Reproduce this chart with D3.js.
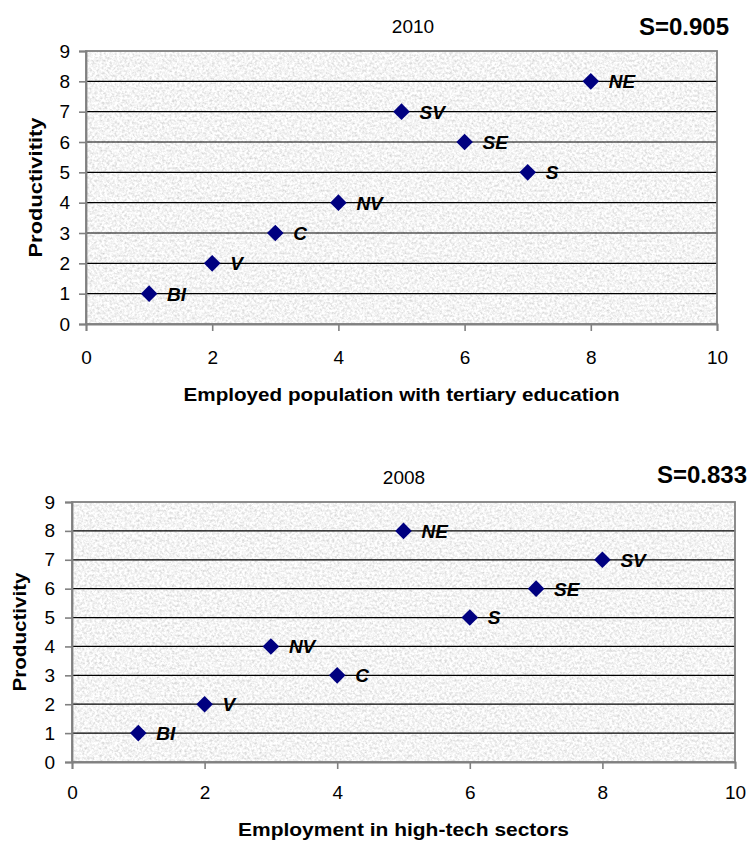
<!DOCTYPE html>
<html>
<head>
<meta charset="utf-8">
<script src="https://cdn.jsdelivr.net/npm/d3@7"></script>
<style>
  html, body { margin: 0; padding: 0; background: #fff; }
  svg { display: block; font-family: Arial, "Liberation Sans", sans-serif; }
</style>
</head>
<body>
<svg id="chart" width="753" height="841"></svg>
<script>
// Region codes and ranks
const regions2010 = ["BI", "V", "C", "NV", "SV", "SE", "S", "NE"];
const tertiaryEducation2010 = [1, 2, 3, 4, 5, 6, 7, 8];
const productivity2010 = [1, 2, 3, 4, 7, 6, 5, 8];

const regions2008 = ["BI", "V", "NV", "C", "NE", "S", "SE", "SV"];
const highTech2008 = [1, 2, 3, 4, 5, 6, 7, 8];
const productivity2008 = [1, 2, 4, 3, 8, 5, 6, 7];

const xTicks = [0, 2, 4, 6, 8, 10];
const yTicks = [0, 1, 2, 3, 4, 5, 6, 7, 8, 9];

const svg = d3.select("#chart");

// Granite-like texture for the plot area
const defs = svg.append("defs");
const filt = defs.append("filter").attr("id", "granite")
  .attr("x", 0).attr("y", 0).attr("width", 1).attr("height", 1);
filt.append("feTurbulence").attr("type", "fractalNoise")
  .attr("baseFrequency", 0.4).attr("numOctaves", 3).attr("seed", 7).attr("result", "n");
filt.append("feColorMatrix").attr("in", "n").attr("type", "matrix")
  .attr("values", "0.65 0 0 0 0.58  0.65 0 0 0 0.58  0.65 0 0 0 0.58  0 0 0 0 1");

function drawPanel(cfg) {
  const { left, right, top, bottom } = cfg;
  const x = d3.scaleLinear().domain([0, 10]).range([left, right]);
  const y = d3.scaleLinear().domain([0, 9]).range([bottom, top]);
  const g = svg.append("g");

  // textured plot background
  g.append("rect")
    .attr("x", left).attr("y", top)
    .attr("width", right - left).attr("height", bottom - top)
    .attr("fill", "#e6e6e6")
    .attr("filter", "url(#granite)");

  // horizontal gridlines
  g.append("g").selectAll("line")
    .data(yTicks.filter(v => v > 0 && v < 9))
    .join("line")
    .attr("x1", left).attr("x2", right)
    .attr("y1", d => y(d)).attr("y2", d => y(d))
    .attr("stroke", "#000").attr("stroke-width", 1.2);

  // plot border
  g.append("rect")
    .attr("x", left).attr("y", top)
    .attr("width", right - left).attr("height", bottom - top)
    .attr("fill", "none").attr("stroke", "#808080").attr("stroke-width", 1.8);

  // y axis
  const yAxis = d3.axisLeft(y).tickValues(yTicks).tickSize(7).tickPadding(cfg.yPad).tickFormat(d3.format("d"));
  const ya = g.append("g").attr("transform", `translate(${left},0)`).call(yAxis);
  ya.select(".domain").attr("stroke", "#808080").attr("stroke-width", 1.8);
  ya.selectAll(".tick line").attr("stroke", "#808080").attr("stroke-width", 1.6);
  ya.selectAll(".tick text").attr("font-size", 19).attr("fill", "#000")
    .attr("font-family", "Arial, 'Liberation Sans', sans-serif");

  // x axis
  const xAxis = d3.axisBottom(x).tickValues(xTicks).tickSize(7).tickPadding(cfg.xPad).tickFormat(d3.format("d"));
  const xa = g.append("g").attr("transform", `translate(0,${bottom})`).call(xAxis);
  xa.select(".domain").attr("stroke", "#808080").attr("stroke-width", 1.8);
  xa.selectAll(".tick line").attr("stroke", "#808080").attr("stroke-width", 1.6);
  xa.selectAll(".tick text").attr("font-size", 19).attr("fill", "#000")
    .attr("font-family", "Arial, 'Liberation Sans', sans-serif");

  // points
  const pts = cfg.names.map((n, i) => ({ n, xv: cfg.xs[i], yv: cfg.ys[i] }));
  const diamond = d3.symbol().type(d3.symbolSquare).size(138);
  g.append("g").selectAll("path")
    .data(pts)
    .join("path")
    .attr("d", diamond)
    .attr("transform", d => `translate(${x(d.xv)},${y(d.yv)}) rotate(45)`)
    .attr("fill", "#000080");

  g.append("g").selectAll("text")
    .data(pts)
    .join("text")
    .attr("x", d => x(d.xv) + 18)
    .attr("y", d => y(d.yv))
    .attr("dy", "0.36em")
    .attr("font-size", 19).attr("font-weight", "bold").attr("font-style", "italic")
    .attr("fill", "#000")
    .text(d => d.n);

  // titles
  g.append("text").attr("x", cfg.yearX).attr("y", cfg.yearY)
    .attr("text-anchor", "middle").attr("font-size", 19).text(cfg.year);
  g.append("text").attr("x", cfg.sX).attr("y", cfg.sY)
    .attr("text-anchor", "end").attr("font-size", 24).attr("font-weight", "bold").text(cfg.s);

  g.append("text").attr("x", (left + right) / 2).attr("y", cfg.xTitleY)
    .attr("text-anchor", "middle").attr("font-size", 18).attr("font-weight", "bold")
    .attr("textLength", cfg.xTitleLen).attr("lengthAdjust", "spacingAndGlyphs")
    .text(cfg.xTitle);
  g.append("text")
    .attr("transform", `translate(${cfg.yTitleX},${(top + bottom) / 2}) rotate(-90)`)
    .attr("text-anchor", "middle").attr("font-size", 18).attr("font-weight", "bold")
    .attr("textLength", cfg.yTitleLen).attr("lengthAdjust", "spacingAndGlyphs")
    .text(cfg.yTitle);
}

drawPanel({
  left: 86, right: 717, top: 51, bottom: 324,
  names: regions2010, xs: tertiaryEducation2010, ys: productivity2010,
  year: "2010", yearX: 413, yearY: 33,
  s: "S=0.905", sX: 729, sY: 35,
  xTitle: "Employed population with tertiary education", xTitleY: 401, xTitleLen: 436,
  yTitle: "Productivitity", yTitleX: 42, yTitleLen: 140,
  xPad: 20, yPad: 9
});

drawPanel({
  left: 72, right: 735, top: 502, bottom: 762,
  names: regions2008, xs: highTech2008, ys: productivity2008,
  year: "2008", yearX: 404, yearY: 484,
  s: "S=0.833", sX: 747, sY: 483,
  xTitle: "Employment in high-tech sectors", xTitleY: 836, xTitleLen: 331,
  yTitle: "Productivity", yTitleX: 26, yTitleLen: 119,
  xPad: 17, yPad: 10
});
</script>
</body>
</html>
